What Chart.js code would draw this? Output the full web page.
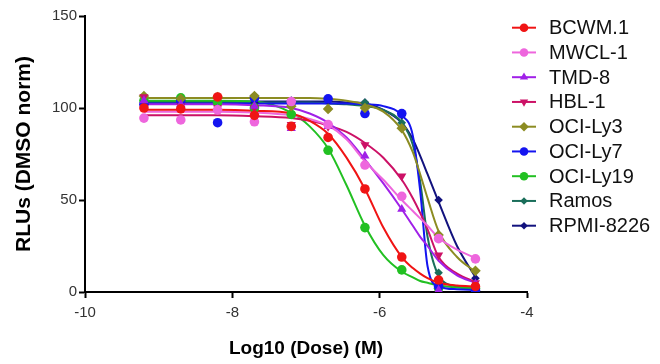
<!DOCTYPE html>
<html>
<head>
<meta charset="utf-8">
<script src="https://cdn.jsdelivr.net/npm/chart.js@4/dist/chart.umd.min.js"></script>
<style>
  html, body { margin: 0; padding: 0; background: #fff; }
  #wrap { width: 660px; height: 364px; position: relative; }
</style>
</head>
<body>
<div id="wrap"><canvas id="c"></canvas></div>
<script>
// ---------- data (log10 dose vs. RLU % of DMSO) ----------
const doses = [-9.2, -8.7, -8.2, -7.7, -7.2, -6.7, -6.2, -5.7, -5.2, -4.7]
const fitDoses = [-9.2, -8.2, -7.7, -7.2, -6.95, -6.7, -6.45, -6.2, -5.95, -5.7, -5.55, -5.45, -5.35, -5.2, -4.95, -4.7]

const lineNames = ['BCWM.1', 'MWCL-1', 'TMD-8', 'HBL-1', 'OCI-Ly3', 'OCI-Ly7', 'OCI-Ly19', 'Ramos', 'RPMI-8226']

// measured points
const bcwm1 = [100, 99.5, 106, 96, 90, 84, 56, 19, 6.5, 3]
const mwcl1 = [94.5, 93.5, 99, 92.5, 103.5, 91, 69, 52, 29, 18]
const tmd8 = [104, 102, 99.5, 101, 89, 90, 74, 45, 1, 4.5]
const hbl1 = [106, 101, 100, 100, 91, 90, 80, 63, 20, 5]
const ociLy3 = [106.5, 105, 106, 106.5, 101, 99.5, 100, 89, 31, 11.5]
const ociLy7 = [102, 104, 92, 105.5, 103, 105, 97, 97, 3, 1]
const ociLy19 = [104, 105.5, 103, 100, 96.5, 77, 35, 12, 2, 2]
const ramos = [103, 104, 103, 101.5, 97, 99.5, 103, 92, 10.5, 2]
const rpmi8226 = [104, 103, 104, 103, 104, 104, 103, 96, 50, 7.5]

// fitted curves at fitDoses
const bcwm1Fit = [99, 99, 98.5, 97, 93, 86, 73, 56, 35, 19, 13, 10, 7.5, 5, 3.5, 3]
const mwcl1Fit = [98, 98, 97.5, 96, 94, 90.5, 83, 71, 61, 50, 44, 40, 36, 29.5, 23, 18.5]
const tmd8Fit = [102, 102, 101.5, 100, 97, 92, 84, 72, 59, 45, 36, 30, 25, 17, 9, 5]
const hbl1Fit = [96, 96, 95.5, 94.5, 93, 90.5, 87, 81, 73, 61, 51, 43, 34, 19, 10, 5.5]
const ociLy3Fit = [105.5, 105.5, 105.5, 105.5, 105.5, 105, 104, 102, 98, 88, 76, 64, 51, 33, 19, 11]
const ociLy7Fit = [102.5, 102.5, 102.5, 102.5, 102.5, 102.5, 102.5, 102, 101, 96, 85, 55, 14, 3, 1.5, 1]
const ociLy19Fit = [104, 104, 103.5, 97.5, 90, 78, 58, 36, 20, 11, 8, 6, 5, 3.5, 2.5, 2]
const ramosFit = [103, 103, 103, 103, 103, 102.5, 102, 101, 99, 92, 80, 60, 30, 9, 3, 2]
const rpmi8226Fit = [103.5, 103.5, 103.5, 103.5, 103.5, 103.5, 103, 102.5, 99, 92, 83, 74, 64, 49, 25, 8]

const xTicks = [-10, -8, -6, -4]
const yTicks = [0, 50, 100, 150]

// ---------- styles ----------
const FONT = "'Liberation Sans', Arial, Helvetica, sans-serif"
const colors = ['#f01414', '#ee66dd', '#a020e8', '#cc1166', '#8c8c22', '#1414f0', '#22c022', '#1a6e5a', '#12127e']
const markers = [
  { style: 'circle', r: 4.8, rot: 0 },
  { style: 'circle', r: 4.8, rot: 0 },
  { style: 'triangle', r: 5.3, rot: 0 },
  { style: 'triangle', r: 5.3, rot: 180 },
  { style: 'rectRot', r: 5.3, rot: 0 },
  { style: 'circle', r: 4.8, rot: 0 },
  { style: 'circle', r: 4.8, rot: 0 },
  { style: 'rectRot', r: 4.3, rot: 0 },
  { style: 'rectRot', r: 4.3, rot: 0 },
]

const pointSets = [bcwm1, mwcl1, tmd8, hbl1, ociLy3, ociLy7, ociLy19, ramos, rpmi8226]
const fitSets = [bcwm1Fit, mwcl1Fit, tmd8Fit, hbl1Fit, ociLy3Fit, ociLy7Fit, ociLy19Fit, ramosFit, rpmi8226Fit]

const datasets = []
lineNames.forEach((name, i) => {
  datasets.push({
    label: name + ' fit',
    type: 'line',
    data: fitSets[i].map((v, k) => ({ x: fitDoses[k], y: v })),
    borderColor: colors[i],
    borderWidth: 2,
    pointRadius: 0,
    cubicInterpolationMode: 'monotone',
    fill: false,
    order: 10,
  })
  datasets.push({
    label: name,
    type: 'scatter',
    data: pointSets[i].map((v, k) => ({ x: doses[k], y: v })),
    backgroundColor: colors[i],
    borderColor: colors[i],
    borderWidth: 0,
    pointStyle: markers[i].style,
    pointRadius: markers[i].r,
    pointRotation: markers[i].rot,
    showLine: false,
    order: 1,
  })
})

// legend drawn by hand on the right side
const sideLegend = {
  id: 'sideLegend',
  afterDraw(chart) {
    const ctx = chart.ctx
    ctx.save()
    lineNames.forEach((name, i) => {
      const y = 27.7 + i * 24.75
      ctx.strokeStyle = colors[i]
      ctx.fillStyle = colors[i]
      ctx.lineWidth = 2
      ctx.beginPath()
      ctx.moveTo(512, y)
      ctx.lineTo(536, y)
      ctx.stroke()
      Chart.helpers.drawPoint(ctx, {
        pointStyle: markers[i].style,
        rotation: markers[i].rot,
        radius: markers[i].r - 0.5,
        borderWidth: 0,
      }, 524, y)
      ctx.fillStyle = '#111'
      ctx.font = '20px ' + FONT
      ctx.textAlign = 'left'
      ctx.textBaseline = 'middle'
      ctx.fillText(name, 549, y + 1)
    })
    ctx.restore()
  },
}

new Chart(document.getElementById('c'), {
  type: 'scatter',
  data: { datasets },
  options: {
    responsive: true,
    maintainAspectRatio: false,
    animation: false,
    layout: { padding: { top: 16, right: 133, left: 12, bottom: 0 } },
    plugins: {
      legend: { display: false },
      tooltip: { enabled: false },
    },
    scales: {
      x: {
        type: 'linear',
        min: -10,
        max: -4,
        afterBuildTicks: (s) => { s.ticks = xTicks.map((v) => ({ value: v })) },
        afterFit: (s) => { s.height = 72 },
        grid: { drawOnChartArea: false, drawTicks: true, tickLength: 6, tickWidth: 2, tickColor: '#000' },
        border: { color: '#000', width: 2 },
        ticks: { color: '#333', font: { family: FONT, size: 15 }, padding: 6 },
        title: {
          display: true,
          text: 'Log10 (Dose) (M)',
          color: '#000',
          font: { family: FONT, size: 19, weight: 'bold' },
          padding: { top: 9 },
        },
      },
      y: {
        type: 'linear',
        min: 0,
        max: 150,
        afterBuildTicks: (s) => { s.ticks = yTicks.map((v) => ({ value: v })) },
        afterFit: (s) => { s.width = 73 },
        grid: { drawOnChartArea: false, drawTicks: true, tickLength: 6, tickWidth: 2, tickColor: '#000' },
        border: { color: '#000', width: 2 },
        ticks: { color: '#333', font: { family: FONT, size: 15 }, padding: 2 },
        title: {
          display: true,
          text: 'RLUs (DMSO norm)',
          color: '#000',
          font: { family: FONT, size: 21, weight: 'bold' },
          padding: 0,
        },
      },
    },
  },
  plugins: [sideLegend],
})
</script>
</body>
</html>
